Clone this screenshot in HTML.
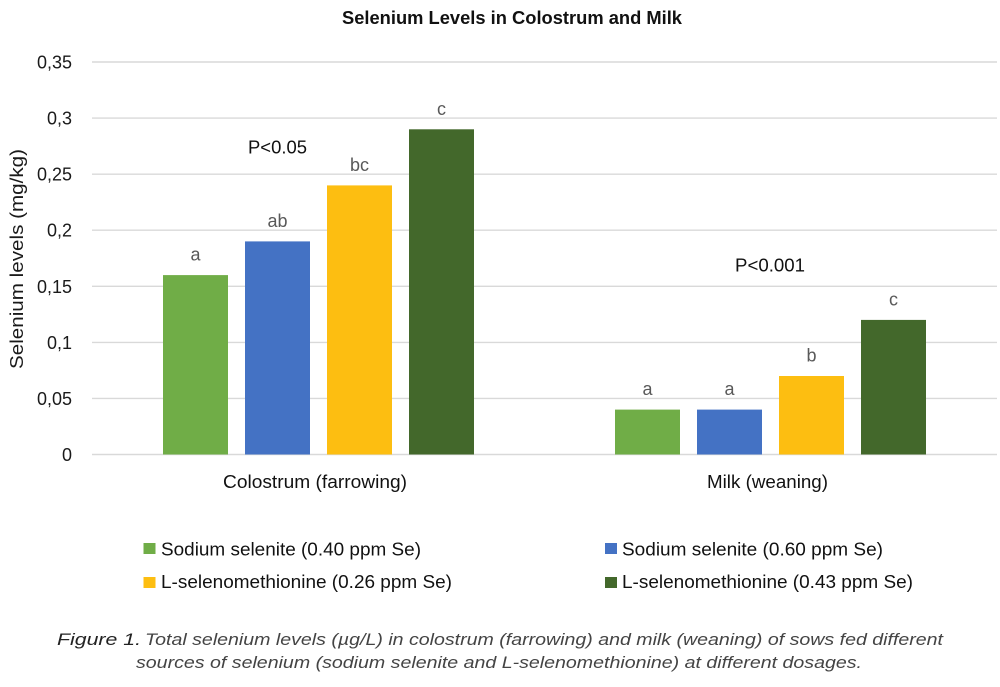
<!DOCTYPE html>
<html>
<head>
<meta charset="utf-8">
<style>
  html,body{margin:0;padding:0;background:#fff;}
  svg{display:block;}
  text{font-family:"Liberation Sans", Arial, sans-serif;}
</style>
</head>
<body>
<svg width="1000" height="687" viewBox="0 0 1000 687" xmlns="http://www.w3.org/2000/svg">
  <rect width="1000" height="687" fill="#ffffff"/>

  <!-- Title -->
  <text x="342" y="24" font-size="18" font-weight="bold" fill="#111" textLength="340" lengthAdjust="spacingAndGlyphs">Selenium Levels in Colostrum and Milk</text>

  <!-- Gridlines -->
  <g stroke="#d9d9d9" stroke-width="1.4">
    <line x1="92" y1="62" x2="997" y2="62"/>
    <line x1="92" y1="118.1" x2="997" y2="118.1"/>
    <line x1="92" y1="174.2" x2="997" y2="174.2"/>
    <line x1="92" y1="230.2" x2="997" y2="230.2"/>
    <line x1="92" y1="286.3" x2="997" y2="286.3"/>
    <line x1="92" y1="342.4" x2="997" y2="342.4"/>
    <line x1="92" y1="398.4" x2="997" y2="398.4"/>
    <line x1="92" y1="454.5" x2="997" y2="454.5"/>
  </g>

  <!-- Y tick labels -->
  <g font-size="18" fill="#1a1a1a" text-anchor="end">
    <text x="72" y="68.5">0,35</text>
    <text x="72" y="124.6">0,3</text>
    <text x="72" y="180.7">0,25</text>
    <text x="72" y="236.7">0,2</text>
    <text x="72" y="292.8">0,15</text>
    <text x="72" y="348.9">0,1</text>
    <text x="72" y="404.9">0,05</text>
    <text x="72" y="461">0</text>
  </g>

  <!-- Y axis title -->
  <text transform="translate(23,259) rotate(-90)" x="0" y="0" font-size="18" fill="#1a1a1a" text-anchor="middle" textLength="220" lengthAdjust="spacingAndGlyphs">Selenium levels (mg/kg)</text>

  <!-- Bars: Colostrum -->
  <rect x="163" y="275.1" width="65" height="179.4" fill="#70ad47"/>
  <rect x="245" y="241.4" width="65" height="213.1" fill="#4472c4"/>
  <rect x="327" y="185.4" width="65" height="269.1" fill="#fdbe11"/>
  <rect x="409" y="129.3" width="65" height="325.2" fill="#43682b"/>

  <!-- Bars: Milk -->
  <rect x="615" y="409.6" width="65" height="44.9" fill="#70ad47"/>
  <rect x="697" y="409.6" width="65" height="44.9" fill="#4472c4"/>
  <rect x="779" y="376" width="65" height="78.5" fill="#fdbe11"/>
  <rect x="861" y="319.9" width="65" height="134.6" fill="#43682b"/>

  <!-- Bar labels -->
  <g font-size="18" fill="#595959" text-anchor="middle">
    <text x="195.5" y="260.6">a</text>
    <text x="277.5" y="226.9">ab</text>
    <text x="359.5" y="170.9">bc</text>
    <text x="441.5" y="114.8">c</text>
    <text x="647.5" y="395.1">a</text>
    <text x="729.5" y="395.1">a</text>
    <text x="811.5" y="361.5">b</text>
    <text x="893.5" y="305.4">c</text>
  </g>

  <!-- P values -->
  <text x="248" y="153.5" font-size="18" fill="#111" textLength="59" lengthAdjust="spacingAndGlyphs">P&lt;0.05</text>
  <text x="735" y="271.5" font-size="18" fill="#111" textLength="70" lengthAdjust="spacingAndGlyphs">P&lt;0.001</text>

  <!-- Category labels -->
  <text x="223" y="488" font-size="18" fill="#111" textLength="184" lengthAdjust="spacingAndGlyphs">Colostrum (farrowing)</text>
  <text x="707" y="488" font-size="18" fill="#111" textLength="121" lengthAdjust="spacingAndGlyphs">Milk (weaning)</text>

  <!-- Legend -->
  <rect x="143.5" y="543" width="12" height="11" fill="#70ad47"/>
  <text x="161" y="555.5" font-size="18.5" fill="#111" textLength="260" lengthAdjust="spacingAndGlyphs">Sodium selenite (0.40 ppm Se)</text>
  <rect x="143.5" y="577" width="12" height="11" fill="#fdbe11"/>
  <text x="161" y="588" font-size="18.5" fill="#111" textLength="291" lengthAdjust="spacingAndGlyphs">L-selenomethionine (0.26 ppm Se)</text>

  <rect x="605" y="543" width="12" height="11" fill="#4472c4"/>
  <text x="622" y="555.5" font-size="18.5" fill="#111" textLength="261" lengthAdjust="spacingAndGlyphs">Sodium selenite (0.60 ppm Se)</text>
  <rect x="605" y="577" width="12" height="11" fill="#43682b"/>
  <text x="622" y="588" font-size="18.5" fill="#111" textLength="291" lengthAdjust="spacingAndGlyphs">L-selenomethionine (0.43 ppm Se)</text>

  <!-- Caption -->
  <text x="57" y="645" font-size="16.5" font-style="italic" fill="#222" textLength="84" lengthAdjust="spacingAndGlyphs">Figure 1.</text>
  <text x="145" y="645" font-size="16.5" font-style="italic" fill="#444" textLength="798" lengthAdjust="spacingAndGlyphs">Total selenium levels (µg/L) in colostrum (farrowing) and milk (weaning) of sows fed different</text>
  <text x="136" y="668" font-size="16.5" font-style="italic" fill="#444" textLength="726" lengthAdjust="spacingAndGlyphs">sources of selenium (sodium selenite and L-selenomethionine) at different dosages.</text>
</svg>
</body>
</html>
